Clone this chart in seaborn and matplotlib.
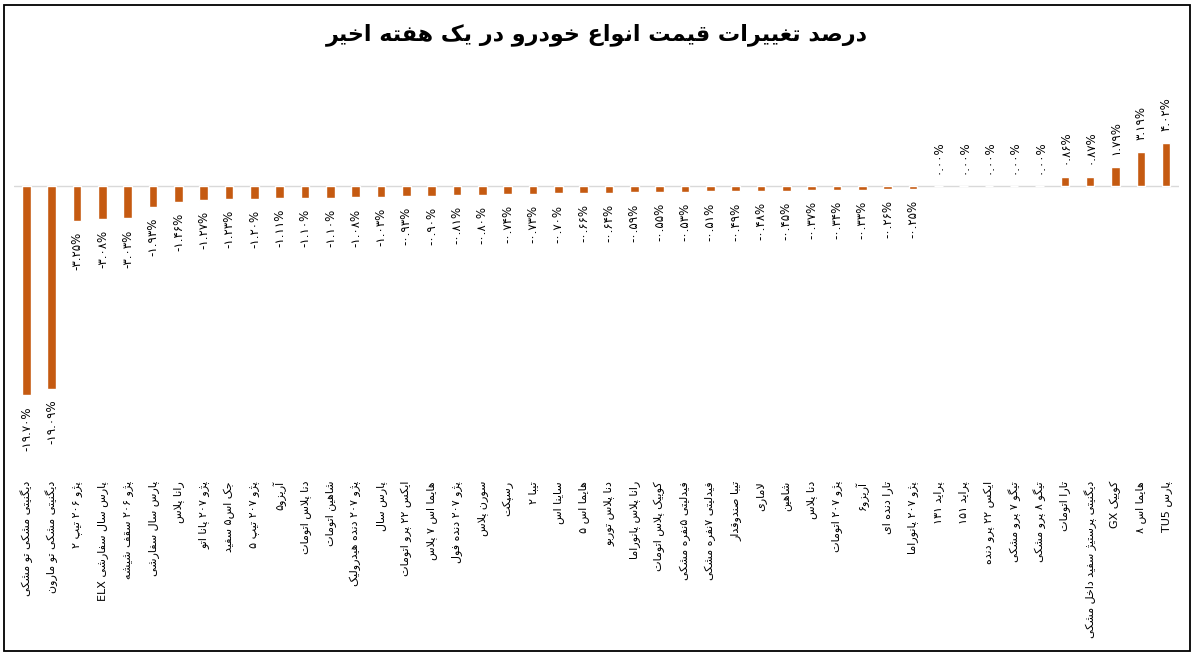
import pandas as pd
import matplotlib.pyplot as plt
import seaborn as sns
from matplotlib.patches import Rectangle

# Chart data (logical Persian text)
title = "درصد تغییرات قیمت انواع خودرو در یک هفته اخیر"

cars = [
    "دیگنیتی مشکی تو مشکی", "دیگنیتی مشکی تو مارون", "پژو ۲۰۶ تیپ ۲",
    "پارس سال سفارشی ELX", "پژو ۲۰۶ سقف شیشه", "پارس سال سفارشی",
    "رانا پلاس", "پژو ۲۰۷ پانا اتو", "جک اس۵ سفید", "پژو ۲۰۷ تیپ ۵",
    "آریزو۵", "دنا پلاس اتومات", "شاهین اتومات", "پژو ۲۰۷ دنده هیدرولیک",
    "پارس سال", "ایکس ۲۲ پرو اتومات", "هایما اس ۷ پلاس", "پژو ۲۰۷ دنده فول",
    "سورن پلاس", "رسپکت", "تیبا ۲", "ساینا اس", "هایما اس ۵",
    "دنا پلاس توربو", "رانا پلاس پانوراما", "کوییک پلاس اتومات",
    "فیدلیتی ۵نفره مشکی", "فیدلیتی ۷نفره مشکی", "تیبا صندوقدار", "لاماری",
    "شاهین", "دنا پلاس", "پژو ۲۰۷ اتومات", "آریزو۶", "تارا دنده ای",
    "پژو ۲۰۷ پانوراما", "پراید ۱۳۱", "پراید ۱۵۱", "ایکس ۲۲ پرو دنده",
    "تیگو ۷ پرو مشکی", "تیگو ۸ پرو مشکی", "تارا اتومات",
    "دیگنیتی پرستیژ سفید داخل مشکی", "کوییک GX", "هایما اس ۸", "پارس TU5",
]

change = [
    -19.70, -19.09, -3.25, -3.08, -3.03, -1.93, -1.46, -1.27, -1.23, -1.20,
    -1.11, -1.10, -1.10, -1.08, -1.03, -0.93, -0.90, -0.81, -0.80, -0.74,
    -0.73, -0.70, -0.66, -0.64, -0.59, -0.55, -0.53, -0.51, -0.49, -0.48,
    -0.45, -0.37, -0.34, -0.33, -0.26, -0.25, 0.00, 0.00, 0.00, 0.00,
    0.00, 0.86, 0.87, 1.79, 3.19, 4.02,
]

# --- minimal Arabic/Persian shaping + visual reordering (matplotlib has none)
# forms: (isolated, final, initial, medial); right-joining letters have no init/med
FORMS = {
    "\u0627": ("\uFE8D", "\uFE8E", None, None),
    "\u0622": ("\uFE81", "\uFE82", None, None),
    "\u0628": ("\uFE8F", "\uFE90", "\uFE91", "\uFE92"),
    "\u067E": ("\uFB56", "\uFB57", "\uFB58", "\uFB59"),
    "\u062A": ("\uFE95", "\uFE96", "\uFE97", "\uFE98"),
    "\u062B": ("\uFE99", "\uFE9A", "\uFE9B", "\uFE9C"),
    "\u062C": ("\uFE9D", "\uFE9E", "\uFE9F", "\uFEA0"),
    "\u0686": ("\uFB7A", "\uFB7B", "\uFB7C", "\uFB7D"),
    "\u062D": ("\uFEA1", "\uFEA2", "\uFEA3", "\uFEA4"),
    "\u062E": ("\uFEA5", "\uFEA6", "\uFEA7", "\uFEA8"),
    "\u062F": ("\uFEA9", "\uFEAA", None, None),
    "\u0630": ("\uFEAB", "\uFEAC", None, None),
    "\u0631": ("\uFEAD", "\uFEAE", None, None),
    "\u0632": ("\uFEAF", "\uFEB0", None, None),
    "\u0698": ("\uFB8A", "\uFB8B", None, None),
    "\u0633": ("\uFEB1", "\uFEB2", "\uFEB3", "\uFEB4"),
    "\u0634": ("\uFEB5", "\uFEB6", "\uFEB7", "\uFEB8"),
    "\u0635": ("\uFEB9", "\uFEBA", "\uFEBB", "\uFEBC"),
    "\u0636": ("\uFEBD", "\uFEBE", "\uFEBF", "\uFEC0"),
    "\u0637": ("\uFEC1", "\uFEC2", "\uFEC3", "\uFEC4"),
    "\u0638": ("\uFEC5", "\uFEC6", "\uFEC7", "\uFEC8"),
    "\u0639": ("\uFEC9", "\uFECA", "\uFECB", "\uFECC"),
    "\u063A": ("\uFECD", "\uFECE", "\uFECF", "\uFED0"),
    "\u0641": ("\uFED1", "\uFED2", "\uFED3", "\uFED4"),
    "\u0642": ("\uFED5", "\uFED6", "\uFED7", "\uFED8"),
    "\u06A9": ("\uFB8E", "\uFB8F", "\uFB90", "\uFB91"),
    "\u06AF": ("\uFB92", "\uFB93", "\uFB94", "\uFB95"),
    "\u0644": ("\uFEDD", "\uFEDE", "\uFEDF", "\uFEE0"),
    "\u0645": ("\uFEE1", "\uFEE2", "\uFEE3", "\uFEE4"),
    "\u0646": ("\uFEE5", "\uFEE6", "\uFEE7", "\uFEE8"),
    "\u0648": ("\uFEED", "\uFEEE", None, None),
    "\u0647": ("\uFEE9", "\uFEEA", "\uFEEB", "\uFEEC"),
    "\u06CC": ("\uFBFC", "\uFBFD", "\uFBFE", "\uFBFF"),
}
LAM_ALEF = {"\u0627": ("\uFEFB", "\uFEFC"), "\u0622": ("\uFEF5", "\uFEF6")}


def shape(text):
    out = []
    i, n = 0, len(text)
    while i < n:
        c = text[i]
        if c not in FORMS:
            out.append(c)
            i += 1
            continue
        prev = text[i - 1] if i > 0 else None
        join_prev = prev in FORMS and FORMS[prev][2] is not None
        nxt = text[i + 1] if i + 1 < n else None
        if c == "\u0644" and nxt in LAM_ALEF:
            out.append(LAM_ALEF[nxt][1 if join_prev else 0])
            i += 2
            continue
        join_next = FORMS[c][2] is not None and nxt in FORMS
        iso, fin, ini, med = FORMS[c]
        if join_prev and join_next:
            out.append(med)
        elif join_prev:
            out.append(fin)
        elif join_next:
            out.append(ini)
        else:
            out.append(iso)
        i += 1
    # visual order: reverse, keeping latin/digit runs left-to-right
    tokens, run = [], ""
    for ch in out:
        if ch.isascii() and ch.isalnum() or "\u06F0" <= ch <= "\u06F9" or (run and ch == "."):
            run += ch
        else:
            if run:
                tokens.append(run)
                run = ""
            tokens.append(ch)
    if run:
        tokens.append(run)
    return "".join(reversed(tokens))


fa_digits = str.maketrans("0123456789", "۰۱۲۳۴۵۶۷۸۹")

df = pd.DataFrame({"car": cars, "change": change})

sns.set_theme(style="white")
plt.rcParams["font.family"] = ["DejaVu Sans"]
plt.rcParams["text.color"] = "black"
plt.rcParams["xtick.color"] = "black"

W, H = 1194, 655
fig = plt.figure(figsize=(W / 100, H / 100), dpi=100)
ax = fig.add_axes([13.8 / W, 1 - 474 / H, 1165 / W, (474 - 110) / H])

sns.barplot(data=df, x="car", y="change", color="#C55A11", width=0.34,
            saturation=1, ax=ax)

ax.set_ylim(-27.12, 7.16)
ax.set_xlim(-0.5, len(cars) - 0.5)
ax.axhline(0, color="#d9d9d9", lw=1, zorder=0)
for s in ax.spines.values():
    s.set_visible(False)
ax.set_yticks([])
ax.set_xlabel("")
ax.set_ylabel("")
ax.set_xticks(range(len(cars)))
ax.set_xticklabels([shape(c) for c in cars], rotation=90, fontsize=8, va="top")
ax.tick_params(axis="x", length=0, pad=5)

for i, v in enumerate(change):
    lbl = f"{v:.2f}%".translate(fa_digits)
    if v < 0:
        ax.annotate(lbl, (i, v), xytext=(0, -8), textcoords="offset points",
                    rotation=90, ha="center", va="top", fontsize=8.5)
    else:
        ax.annotate(lbl, (i, v), xytext=(0, 9), textcoords="offset points",
                    rotation=90, ha="center", va="bottom", fontsize=8.5)

fig.text(0.5, 1 - 35 / H, shape(title), ha="center", va="center",
         fontsize=16, fontweight="bold")

fig.add_artist(Rectangle((4 / W, 4 / H), 1186 / W, 646 / H,
                         transform=fig.transFigure, fill=False,
                         ec="black", lw=1.3))

plt.savefig("out.png", dpi=100)
